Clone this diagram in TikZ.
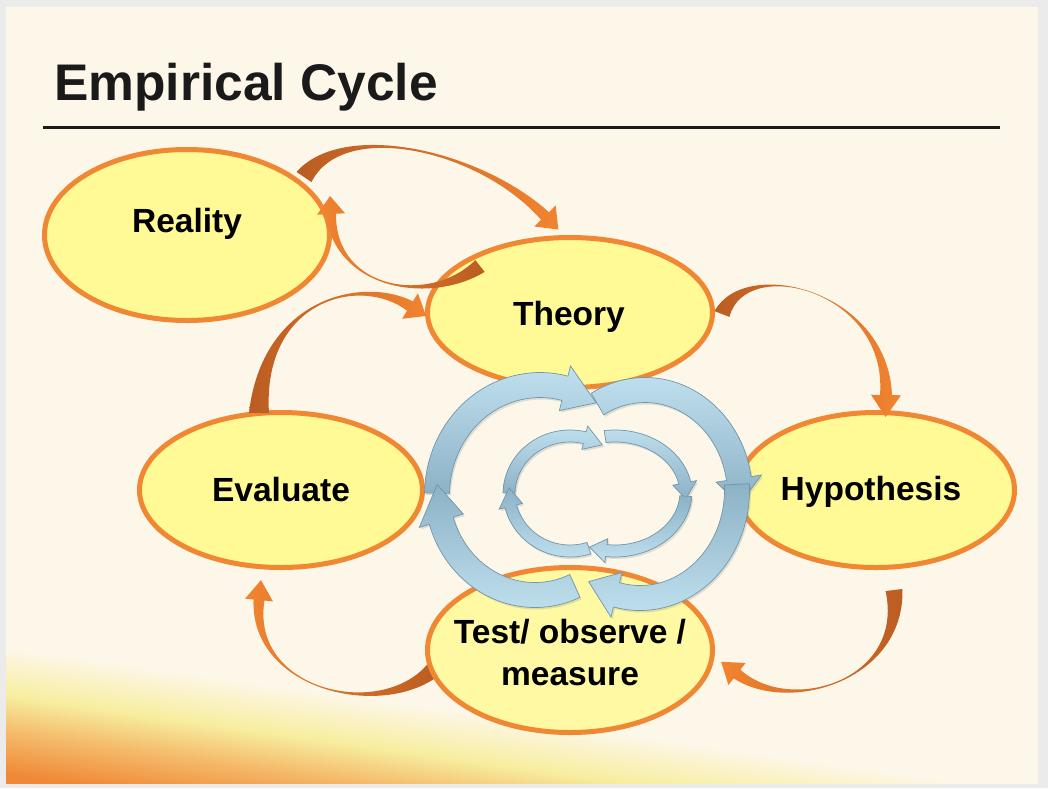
\documentclass[tikz,border=0pt]{standalone}
\usepackage{fontspec}
\setmainfont{Liberation Sans}
\usetikzlibrary{calc,shapes.geometric,shadows}

\definecolor{pagegray}{RGB}{235,235,235}
\definecolor{cream}{RGB}{253,247,234}
\definecolor{bubble}{RGB}{255,250,150}
\definecolor{rim}{RGB}{240,135,50}
\definecolor{rust}{RGB}{186,92,34}
\definecolor{amber}{RGB}{242,132,48}
\definecolor{iceL}{RGB}{192,224,238}
\definecolor{iceD}{RGB}{140,178,198}
\definecolor{iceEdge}{RGB}{112,150,172}
\definecolor{sunO}{RGB}{240,137,55}
\definecolor{sunY}{RGB}{247,238,160}
\definecolor{ink}{RGB}{26,26,26}

\pgfdeclareverticalshading{sunrise}{100bp}{color(0bp)=(sunO); color(46bp)=(sunO); color(53bp)=(sunO!50!sunY); color(59bp)=(sunY); color(64bp)=(sunY!40!cream); color(67bp)=(cream); color(100bp)=(cream)}

% ring-shaped arrow along an ellipse: [style]{centre}{rx}{ry}{half width}{start}{head base}{tip}{wing}
\newcommand\ringarrow[9][]{%
  \begin{scope}[shift={(#2)}]
    \path[#1] ({#6}:{#3+#5} and {#4+#5})
      arc[start angle={#6}, end angle={#7}, x radius={#3+#5}, y radius={#4+#5}]
      -- ({#7}:{#3+#9} and {#4+#9})
      -- ({#8}:{#3} and {#4})
      -- ({#7}:{#3-#9} and {#4-#9})
      -- ({#7}:{#3-#5} and {#4-#5})
      arc[start angle={#7}, end angle={#6}, x radius={#3-#5}, y radius={#4-#5}]
      -- cycle;
  \end{scope}}

% tapered curved arrow: [style]{tail}{c1}{c2}{head base}{tail half width}{head half width}{wing}{head length}
\newcommand\bentarrow[9][]{%
  \path[#1] ($(#2)!#6pt!90:(#3)$) .. controls (#3) and (#4) .. ($(#5)!#7pt!-90:(#4)$)
    -- ($(#5)!#8pt!-90:(#4)$) -- ($(#5)!-#9pt!(#4)$) -- ($(#5)!#8pt!90:(#4)$)
    -- ($(#5)!#7pt!90:(#4)$) .. controls (#4) and (#3) .. ($(#2)!#6pt!-90:(#3)$) -- cycle;}

\tikzset{
  stage/.style={ellipse, draw=rim, line width=5pt, fill=bubble, inner sep=0pt},
  stagetext/.style={font=\fontsize{33.5}{42}\selectfont\bfseries, align=center, inner sep=0pt, anchor=base},
  ringfill/.style={draw=iceEdge, line width=0.7pt,
    drop shadow={opacity=0.22, shadow xshift=1.5pt, shadow yshift=-2pt}},
  ringtop/.style={ringfill, top color=iceL, bottom color=iceD},
  ringbot/.style={ringfill, bottom color=iceL, top color=iceD},
  flowR/.style={left color=rust, right color=amber},
  flowL/.style={left color=amber, right color=rust},
}

\begin{document}
\begin{tikzpicture}[x=1pt, y=-1pt]
\useasboundingbox (0,0) rectangle (1048,788);
\fill[pagegray] (0,0) rectangle (1048,788);
\fill[cream] (6,7) rectangle (1038,783);
\begin{scope}
  \clip (6,7) rectangle (1038,783);
  \shade[shading=sunrise, transform canvas={rotate around={-8:(6,783)}}] (-300,600) rectangle (1400,900);
\end{scope}

% heading
\node[anchor=base west, inner sep=0pt, text=ink, font=\fontsize{51.5}{60}\selectfont\bfseries] (title) at (54,100) {Empirical Cycle};
\coordinate (ruleL) at (43,127.5);
\coordinate (ruleR) at (1000,127.5);
\draw[line width=2.2pt, ink] (ruleL) -- (ruleR);

% stages
\node[stage, minimum width=285pt, minimum height=171pt] (reality) at (187,235) {};
\node[stage, minimum width=285pt, minimum height=150pt] (theory) at (570,312.5) {};
\node[stage, minimum width=283pt, minimum height=155pt] (evaluate) at (281,490) {};
\node[stage, minimum width=277pt, minimum height=155pt] (hypothesis) at (876,490) {};

% test -> evaluate (passes under the test stage)
\bentarrow[flowL]{433,670}{380,720}{250,690}{259,600}{8}{5.5}{14}{20}
\node[stage, minimum width=285pt, minimum height=165pt, fill opacity=0.85] (test) at (570,650) {};

% outer cycle arrows
\bentarrow[flowR]{304,177}{343,119}{480,150}{545,216}{9}{5.5}{15}{19}
\bentarrow[flowL]{480,266}{430,305}{335,290}{331,214}{7.5}{5}{14}{18}
\bentarrow[flowR]{259,413}{262,300}{360,275}{410,306}{10}{5.5}{15}{19}
\bentarrow[flowR]{722,314}{745,255}{888,290}{886,395}{8}{6}{15}{22}
\bentarrow[flowL]{894,590}{905,680}{790,715}{737,674}{8.5}{5.5}{14}{20}

% large inner cycle
\ringarrow[ringtop]{540,495}{103}{110}{12.5}{181}{284}{303}{23}
\ringarrow[ringtop]{645,495}{95}{105}{12.5}{240}{351}{365}{23}
\ringarrow[ringbot]{640,490}{97}{108}{12.5}{-3}{104}{122}{23}
\ringarrow[ringbot]{535,490}{98}{105}{12.5}{66}{163}{183}{23}

% small inner cycle
\ringarrow[ringtop]{570,494}{61}{58}{6}{181}{284}{302}{12}
\ringarrow[ringtop]{615,494}{71}{58}{6}{262}{349}{365}{12}
\ringarrow[ringbot]{615,492}{71}{59}{6}{4}{97}{111}{12}
\ringarrow[ringbot]{570,492}{61}{59}{6}{72}{166}{184}{12}

% stage labels
\node[stagetext] (realityT) at (187,232) {Reality};
\node[stagetext] (theoryT) at (569,325) {Theory};
\node[stagetext] (evaluateT) at (281,501) {Evaluate};
\node[stagetext] (hypothesisT) at (871,500) {Hypothesis};
\node[stagetext] (testT) at (570,685) {Test/ observe /\\measure};
\end{tikzpicture}
\end{document}
